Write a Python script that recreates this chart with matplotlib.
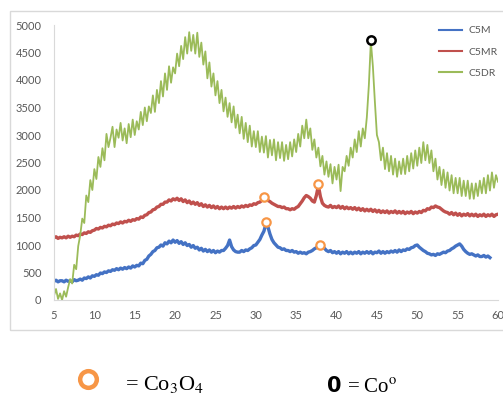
import numpy as np
import matplotlib
matplotlib.use("Agg")
import matplotlib.pyplot as plt
from matplotlib.patches import Rectangle

# 2-theta axis, 0.25 deg steps
two_theta = np.arange(5, 60.001, 0.25)

c5m = [
    340, 360, 330, 350, 350, 330, 360, 340, 350, 330, 370, 350,
    360, 380, 360, 400, 390, 420, 400, 440, 430, 460, 450, 490,
    480, 510, 500, 530, 520, 550, 540, 570, 550, 580, 560, 590,
    570, 600, 580, 620, 600, 630, 620, 670, 660, 720, 740, 800,
    830, 880, 900, 950, 960, 1000, 980, 1040, 1020, 1070, 1040, 1090,
    1050, 1080, 1030, 1060, 1010, 1040, 990, 1010, 960, 990, 940, 960,
    910, 940, 890, 920, 880, 910, 870, 900, 860, 890, 870, 900,
    900, 940, 990, 1090, 970, 910, 880, 870, 870, 900, 880, 910,
    900, 930, 950, 990, 1000, 1050, 1100, 1180, 1250, 1380, 1330, 1200,
    1100, 1040, 1000, 960, 950, 920, 930, 900, 900, 880, 900, 870,
    880, 850, 870, 850, 860, 840, 870, 880, 900, 930, 950, 980,
    1000, 970, 940, 900, 880, 900, 860, 880, 850, 880, 840, 870,
    850, 880, 840, 870, 840, 870, 850, 880, 840, 870, 850, 880,
    850, 880, 840, 870, 860, 890, 850, 880, 850, 880, 860, 890,
    870, 900, 870, 910, 880, 910, 900, 930, 920, 950, 960, 990,
    1000, 960, 930, 900, 880, 850, 840, 820, 830, 810, 840, 830,
    850, 870, 860, 890, 900, 930, 950, 980, 1000, 1020, 980, 920,
    880, 850, 830, 840, 820, 800, 820, 790, 790, 810, 780, 800,
    770,
]

c5mr = [
    1130, 1150, 1120, 1140, 1130, 1150, 1130, 1160, 1140, 1160, 1150, 1180,
    1170, 1200, 1190, 1220, 1210, 1240, 1230, 1260, 1270, 1300, 1290, 1320,
    1310, 1340, 1330, 1360, 1350, 1380, 1370, 1400, 1390, 1420, 1400, 1430,
    1420, 1450, 1430, 1460, 1450, 1480, 1470, 1510, 1500, 1540, 1550, 1590,
    1600, 1640, 1650, 1690, 1700, 1740, 1740, 1780, 1780, 1820, 1800, 1840,
    1820, 1850, 1810, 1840, 1790, 1820, 1770, 1800, 1750, 1780, 1740, 1770,
    1720, 1750, 1700, 1730, 1690, 1720, 1680, 1710, 1670, 1700, 1660, 1690,
    1660, 1690, 1660, 1690, 1670, 1700, 1670, 1700, 1680, 1710, 1690, 1720,
    1700, 1730, 1720, 1750, 1740, 1770, 1780, 1810, 1820, 1850, 1810, 1790,
    1760, 1740, 1720, 1700, 1700, 1680, 1690, 1660, 1660, 1640, 1660, 1650,
    1680, 1700, 1750, 1800, 1860, 1900, 1880, 1850, 1800, 1780, 1900, 2080,
    1880, 1760, 1720, 1700, 1690, 1720, 1680, 1700, 1680, 1710, 1670, 1700,
    1660, 1690, 1660, 1680, 1650, 1680, 1640, 1670, 1630, 1660, 1620, 1650,
    1620, 1650, 1610, 1640, 1600, 1630, 1590, 1620, 1590, 1620, 1580, 1610,
    1590, 1620, 1580, 1610, 1580, 1610, 1570, 1600, 1580, 1610, 1570, 1600,
    1580, 1610, 1590, 1630, 1620, 1660, 1650, 1690, 1680, 1710, 1690, 1680,
    1650, 1620, 1600, 1590, 1560, 1590, 1550, 1580, 1540, 1570, 1530, 1560,
    1540, 1570, 1530, 1560, 1530, 1560, 1520, 1550, 1530, 1560, 1520, 1550,
    1530, 1560, 1520, 1550, 1560,
]

c5dr = [
    80, 200, 20, 120, 0, 160, 60, 230, 380, 300, 640, 560,
    980, 1180, 1480, 1400, 1900, 1780, 2180, 2000, 2380, 2200, 2600, 2420,
    2760, 2540, 3020, 2780, 2950, 3150, 2780, 3100, 2950, 3220, 2900, 3120,
    2850, 3200, 2960, 3280, 3000, 3250, 3100, 3420, 3180, 3500, 3250, 3520,
    3400, 3720, 3420, 3820, 3580, 3980, 3700, 4120, 3820, 4250, 3950, 4230,
    4120, 4480, 4250, 4620, 4380, 4780, 4480, 4870, 4530, 4820, 4480, 4860,
    4420, 4680, 4280, 4520, 4030, 4320, 3880, 4120, 3720, 3980, 3580, 3820,
    3430, 3680, 3330, 3580, 3230, 3520, 3130, 3370, 3030, 3330, 2930, 3220,
    2870, 3170, 2790, 3070, 2780, 3070, 2690, 2970, 2680, 2980, 2590, 2910,
    2630, 2920, 2540, 2870, 2580, 2870, 2530, 2820, 2560, 2870, 2610, 2920,
    2690, 3020, 2790, 3170, 2940, 3280, 2940, 3120, 2730, 2920, 2590, 2770,
    2430, 2620, 2280, 2520, 2240, 2470, 2120, 2420, 2190, 2460, 1980, 2420,
    2340, 2620, 2440, 2770, 2590, 2920, 2690, 3070, 2790, 3120, 2940, 3320,
    3900, 4700, 4250, 3600, 3000, 2870, 2540, 2770, 2380, 2670, 2340, 2620,
    2280, 2570, 2240, 2520, 2290, 2570, 2290, 2620, 2340, 2670, 2390, 2720,
    2440, 2770, 2490, 2870, 2540, 2820, 2490, 2720, 2340, 2570, 2190, 2420,
    2090, 2370, 2040, 2320, 1990, 2270, 1940, 2220, 1940, 2220, 1890, 2170,
    1890, 2170, 1840, 2120, 1840, 2120, 1890, 2170, 1940, 2220, 1940, 2270,
    1990, 2320, 2040, 2270, 2150,
]

# phase markers (2-theta, intensity)
co3o4_x = [31.3, 38.0, 31.0, 37.7]
co3o4_y = [1420, 1000, 1870, 2110]
co_x = [44.3]
co_y = [4730]

plt.rcParams["font.family"] = ["Lato", "DejaVu Sans"]

fig = plt.figure(figsize=(5.03, 3.99), dpi=100)
fig.patches.append(Rectangle((10 / 503, 1 - 330 / 399), 0.99, 319 / 399,
                             transform=fig.transFigure, fill=False,
                             edgecolor="#d9d9d9", linewidth=1.0))

ax = fig.add_axes([54 / 503, 99 / 399, 444 / 503, 275 / 399])
ax.plot(two_theta[:len(c5m)], c5m, color="#4472C4", lw=2.4, label="C5M")
ax.plot(two_theta, c5mr, color="#C0504D", lw=2.4, label="C5MR")
ax.plot(two_theta, c5dr, color="#9BBB59", lw=1.3, label="C5DR")

ax.plot(co3o4_x, co3o4_y, "o", ms=6, mfc="white", mec="#F79646", mew=1.6)
ax.plot(co_x, co_y, "o", ms=6, mfc="white", mec="black", mew=1.8)

ax.set_xlim(5, 60)
ax.set_ylim(0, 5000)
ax.set_xticks(range(5, 61, 5))
ax.set_yticks(range(0, 5001, 500))
for s in ["top", "right"]:
    ax.spines[s].set_visible(False)
for s in ["left", "bottom"]:
    ax.spines[s].set_color("#d9d9d9")
ax.tick_params(length=0, labelsize=8, colors="#595959", pad=9)
ax.tick_params(axis="x", pad=7)

leg = ax.legend(loc="upper left", bbox_to_anchor=(435 / 503, 1 - 22 / 399),
                bbox_transform=fig.transFigure, frameon=False, fontsize=7.5,
                handlelength=2.2, labelspacing=1.15, handletextpad=0.6,
                borderaxespad=0)
for t in leg.get_texts():
    t.set_color("#595959")
for h in leg.get_lines():
    h.set_linewidth(1.5)

# key below the chart
fig.add_artist(plt.Line2D([88 / 503], [1 - 379 / 399], marker="o", ms=12,
                          mfc="white", mec="#F79646", mew=3.2))
fig.text(125 / 503, 1 - 390 / 399, r"= Co$_3$O$_4$", fontsize=16,
         family="Liberation Serif", math_fontfamily="stix", color="black")
fig.text(334 / 503, 1 - 386 / 399, "0", fontsize=15, fontweight="bold",
         family="DejaVu Sans", ha="center", va="center", color="black")
fig.text(347 / 503, 1 - 393 / 399, r"= Co$^{\mathrm{o}}$", fontsize=15,
         family="Liberation Serif", math_fontfamily="stix", color="black")

fig.savefig("out.png", dpi=100)
